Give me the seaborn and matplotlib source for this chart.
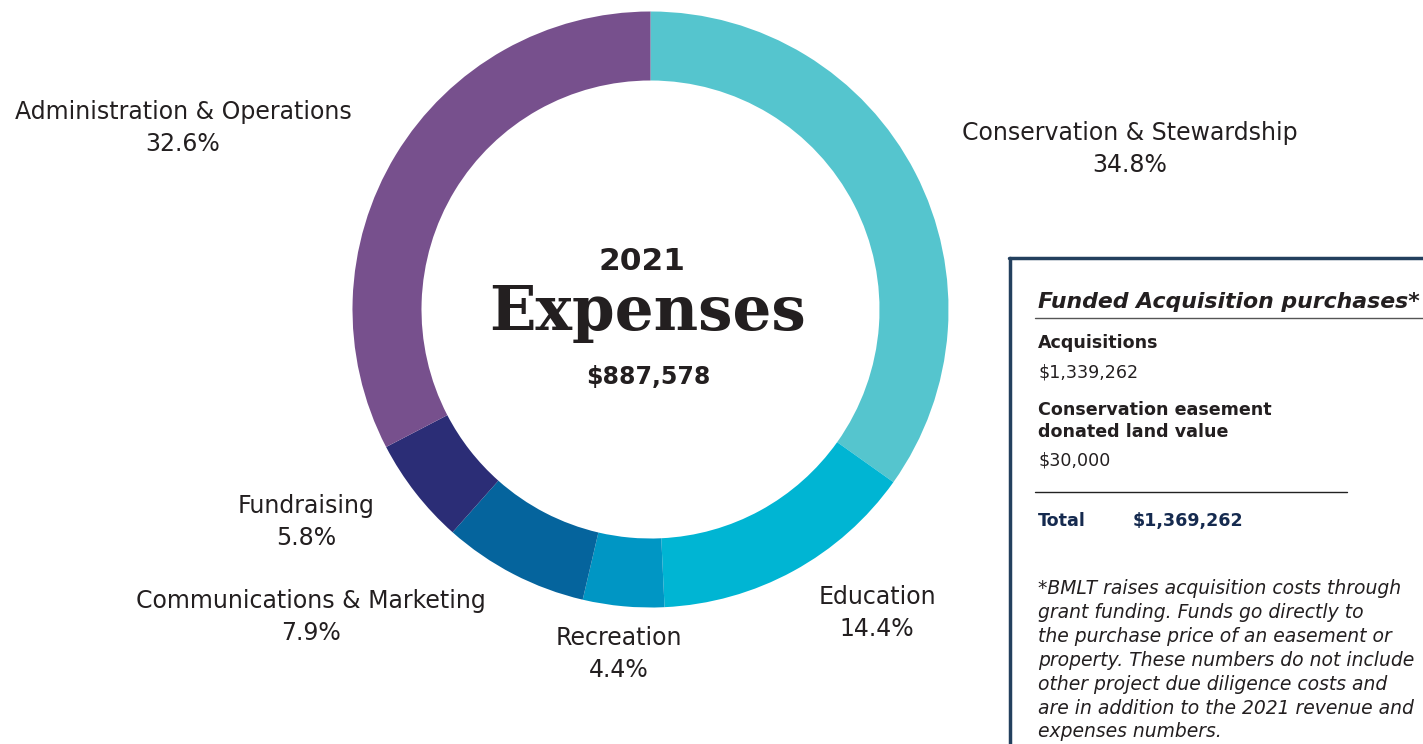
import numpy as np
import pandas as pd
import seaborn as sns
import matplotlib.pyplot as plt

# ------------------------------------------------------------------------------- #
# Data
categories = ['Conservation & Stewardship', 'Education', 'Recreation',
              'Communications & Marketing', 'Fundraising', 'Administration & Operations']
shares = [34.8, 14.4, 4.4, 7.9, 5.8, 32.6]
palette = ['#55c5ce', '#00b5d3', '#0096c4', '#05649d', '#2b2d76', '#77508d']

year = '2021'
title = 'Expenses'
total_expenses = '$887,578'

box_title = 'Funded Acquisition purchases*'
acq_label = 'Acquisitions'
acq_value = '$1,339,262'
easement_label = 'Conservation easement\ndonated land value'
easement_value = '$30,000'
total_label = 'Total'
total_value = '$1,369,262'
footnote = ['*BMLT raises acquisition costs through',
            'grant funding. Funds go directly to',
            'the purchase price of an easement or',
            'property. These numbers do not include',
            'other project due diligence costs and',
            'are in addition to the 2021 revenue and',
            'expenses numbers.']

# label anchors (pixels, centre of the name line)
label_pos = [(1130, 133), (877, 597), (619, 638), (311, 601), (306, 506), (183, 112)]

# ------------------------------------------------------------------------------- #
# Figure
sns.set_theme(style='white')
plt.rcParams['font.family'] = ['DejaVu Sans']

W, H = 1423, 744
fig = plt.figure(figsize=(W / 100, H / 100), dpi=100)
fig.patch.set_facecolor('white')

# donut
cx, cy, R = 650.5, 309.5, 298
ax = fig.add_axes([(cx - R) / W, 1 - (cy + R) / H, 2 * R / W, 2 * R / H])
ax.pie(shares, colors=palette, startangle=90, counterclock=False,
       wedgeprops=dict(width=69 / R, linewidth=0))
ax.set_xlim(-1, 1)
ax.set_ylim(-1, 1)
ax.axis('off')

# overlay in pixel coords
ov = fig.add_axes([0, 0, 1, 1])
ov.set_xlim(0, W)
ov.set_ylim(H, 0)
ov.axis('off')

txt_col = '#231f20'
for (x, y), name, val in zip(label_pos, categories, shares):
    ov.text(x, y, name, ha='center', va='center', fontsize=17, color=txt_col)
    ov.text(x, y + 32, f'{val}%', ha='center', va='center', fontsize=17, color=txt_col)

# centre text
ov.text(642, 262, year, ha='center', va='center', fontsize=22.5, fontweight='bold', color=txt_col)
ov.text(648, 313, title, ha='center', va='center', fontsize=44, fontweight='bold',
        family=['DejaVu Serif'], color=txt_col)
ov.text(648, 377, total_expenses, ha='center', va='center',
        fontsize=17, fontweight='bold', color=txt_col)

# side box
box_col = '#23405e'
ov.plot([1010, 1010], [258, H], color=box_col, lw=2.5, clip_on=False)
ov.plot([1009, W], [258, 258], color=box_col, lw=2.5, clip_on=False)
ov.text(1038, 302, box_title, ha='left', va='center', fontsize=15.8, style='italic',
        fontweight='bold', color=txt_col)
ov.plot([1035, W], [318, 318], color='#555555', lw=1)
ov.text(1038, 343, acq_label, ha='left', va='center', fontsize=12.6, fontweight='bold', color=txt_col)
ov.text(1038, 372, acq_value, ha='left', va='center', fontsize=12.6, color=txt_col)
ov.text(1038, 421, easement_label, ha='left', va='center', fontsize=12.6, fontweight='bold',
        color=txt_col, linespacing=1.25)
ov.text(1038, 461, easement_value, ha='left', va='center', fontsize=12.6, color=txt_col)
ov.plot([1035, 1347], [492, 492], color='#222222', lw=1)
ov.text(1038, 521, total_label, ha='left', va='center', fontsize=12.6, fontweight='bold', color='#152a4f')
ov.text(1133, 521, total_value, ha='left', va='center', fontsize=12.6, fontweight='bold', color='#152a4f')
for i, line in enumerate(footnote):
    ov.text(1038, 589 + i * 23.8, line, ha='left', va='center', fontsize=13.5, style='italic', color=txt_col)

fig.savefig('out.png', dpi=100, facecolor='white')
